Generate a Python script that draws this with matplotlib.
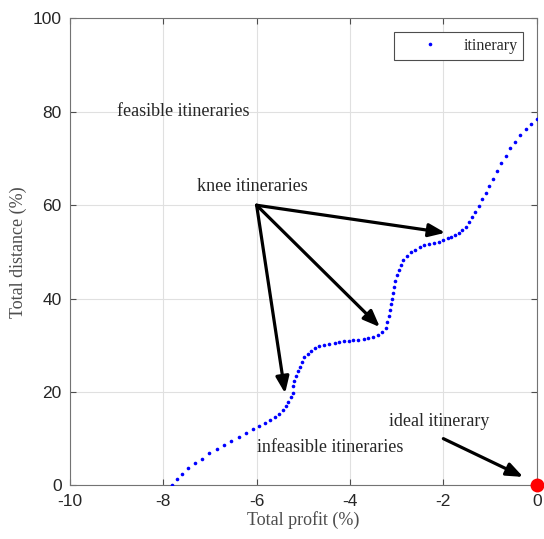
import numpy as np
import matplotlib
matplotlib.use('Agg')
import matplotlib.pyplot as plt

# itinerary points (profit %, distance %)
profit = [-7.82, -7.71, -7.60, -7.46, -7.32, -7.17, -7.01, -6.85, -6.70, -6.55,
          -6.38, -6.23, -6.08, -5.94, -5.81, -5.71, -5.61, -5.52, -5.44, -5.37,
          -5.32, -5.27, -5.23, -5.22, -5.19, -5.15, -5.12, -5.08, -5.03, -4.98,
          -4.91, -4.84, -4.75, -4.66, -4.56, -4.44, -4.33, -4.23, -4.13, -4.03,
          -3.93, -3.82, -3.71, -3.61, -3.50, -3.39, -3.31, -3.23, -3.21, -3.17,
          -3.14, -3.12, -3.10, -3.08, -3.06, -3.03, -3.00, -2.96, -2.91, -2.86,
          -2.78, -2.70, -2.61, -2.51, -2.41, -2.31, -2.20, -2.10, -2.00, -1.91,
          -1.83, -1.74, -1.67, -1.60, -1.52, -1.45, -1.39, -1.32, -1.24, -1.17,
          -1.09, -1.02, -0.94, -0.86, -0.76, -0.66, -0.57, -0.46, -0.35, -0.24,
          -0.12, 0.00]
distance = [0.00, 1.29, 2.42, 3.64, 4.72, 5.70, 6.86, 7.72, 8.57, 9.50,
            10.35, 11.21, 12.07, 12.71, 13.29, 14.00, 14.64, 15.29, 16.14, 17.00,
            17.92, 18.86, 19.85, 21.29, 22.42, 23.43, 24.50, 25.42, 26.50, 27.44,
            28.15, 28.79, 29.37, 29.86, 30.14, 30.35, 30.57, 30.72, 30.87, 31.00,
            31.08, 31.15, 31.30, 31.51, 31.85, 32.28, 32.86, 33.65, 35.07, 36.29,
            37.58, 38.80, 40.00, 41.29, 42.57, 43.86, 45.02, 46.15, 47.29, 48.30,
            49.15, 49.95, 50.50, 51.02, 51.45, 51.72, 52.00, 52.22, 52.52, 53.01,
            53.29, 53.72, 54.15, 54.73, 55.43, 56.38, 57.45, 58.65, 59.87, 61.31,
            62.59, 64.16, 65.72, 67.31, 69.02, 70.59, 72.15, 73.53, 74.94, 76.31,
            77.38, 78.46]

ideal_point = (0, 0)

# annotation arrows: start -> tip
arrow_starts = [(-6, 60), (-6, 60), (-6, 60), (-2, 10)]
arrow_tips = [(-1.96, 54.1), (-3.36, 33.9), (-5.39, 19.7), (-0.29, 1.8)]

labels = ['feasible itineraries', 'knee itineraries', 'infeasible itineraries', 'ideal itinerary']
label_pos = [(-9.0, 80), (-7.27, 64), (-6.0, 8), (-3.16, 13.6)]

xticks = [-10, -8, -6, -4, -2, 0]
yticks = [0, 20, 40, 60, 80, 100]

serif = ['Liberation Serif', 'DejaVu Serif']
sans = ['Liberation Sans', 'DejaVu Sans']
txt_col = '0.15'

fig = plt.figure(figsize=(5.44, 5.39), dpi=100)
ax = fig.add_axes([0.1285, 0.0996, 0.8581, 0.8661])

ax.plot(profit, distance, linestyle='none', marker='o', markersize=2.6,
        color=(0, 0, 1), markeredgewidth=0, label='itinerary', zorder=3)

ax.plot([ideal_point[0]], [ideal_point[1]], marker='o', markersize=10,
        color=(1, 0, 0), markeredgewidth=0, clip_on=False, zorder=5)

for s, t in zip(arrow_starts, arrow_tips):
    ax.annotate('', xy=t, xytext=s,
                arrowprops=dict(arrowstyle='-|>,head_length=0.55,head_width=0.22',
                                mutation_scale=18, lw=2.3, color='k',
                                shrinkA=0, shrinkB=0), zorder=4)

for lab, (x, y) in zip(labels, label_pos):
    ax.text(x, y, lab, family=serif, fontsize=13, color=txt_col,
            ha='left', va='center')

ax.set_xlim(-10, 0)
ax.set_ylim(0, 100)
ax.set_xticks(xticks)
ax.set_yticks(yticks)
ax.set_xticklabels([str(v) for v in xticks], family=sans, fontsize=12.5, color=txt_col)
ax.set_yticklabels([str(v) for v in yticks], family=sans, fontsize=12.5, color=txt_col)
ax.tick_params(direction='in', length=4, width=0.8, color='0.3',
               top=True, right=True, pad=6)
ax.grid(True, color='0.88', linewidth=0.8)
ax.set_axisbelow(True)
for sp in ax.spines.values():
    sp.set_color('0.45')
    sp.set_linewidth(0.8)

ax.set_xlabel('Total profit (%)', family=serif, fontsize=13, color='0.3', labelpad=2)
ax.set_ylabel('Total distance (%)', family=serif, fontsize=13, color='0.3', labelpad=4)

leg = ax.legend(loc='upper right', bbox_to_anchor=(0.971, 0.970), borderaxespad=0,
                prop={'family': serif, 'size': 11.5}, fancybox=False,
                handlelength=3.85, handletextpad=0.15, borderpad=0.35,
                markerscale=1.0)
leg.get_frame().set_edgecolor('0.3')
leg.get_frame().set_linewidth(0.8)
leg.get_frame().set_alpha(1)
for t in leg.get_texts():
    t.set_color(txt_col)

fig.savefig('out.png', dpi=100)
